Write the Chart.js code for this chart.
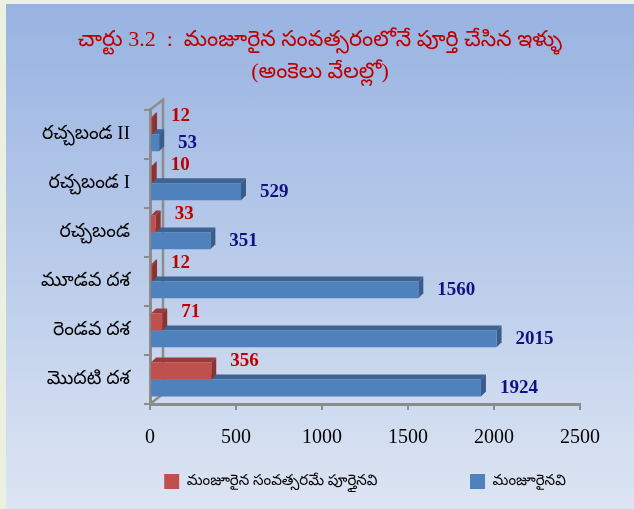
<!DOCTYPE html>
<html>
<head>
<meta charset="utf-8">
<script src="https://cdn.jsdelivr.net/npm/chart.js@4.4.1/dist/chart.umd.min.js"></script>
<style>
html, body { margin: 0; padding: 0; background: #ebf1de; }
#wrap {
    position: absolute; left: 6px; top: 4px; width: 628px; height: 505px;
    background: linear-gradient(to bottom, #98b3e1 0%, #b9cbea 50%, #dde5f3 100%);
}
</style>
</head>
<body>
<div id="wrap"><canvas id="myChart" width="628" height="505"></canvas></div>
<script>
const titleLines = ['చార్టు 3.2  :  మంజూరైన సంవత్సరంలోనే పూర్తి చేసిన ఇళ్ళు', '(అంకెలు వేలల్లో)'];
const categories = ['రచ్చబండ II', 'రచ్చబండ I', 'రచ్చబండ', 'మూడవ దశ', 'రెండవ దశ', 'మొదటి దశ'];
const seriesNames = ['మంజూరైన సంవత్సరమే పూర్తైనవి', 'మంజూరైనవి'];
const completedSameYear = [12, 10, 33, 12, 71, 356];
const sanctioned = [53, 529, 351, 1560, 2015, 1924];
const xTicks = [0, 500, 1000, 1500, 2000, 2500];

// face, top and side colours for the fake 3d look
const faceColors = ['#c0504d', '#4f81bd'];
const topColors = ['#983c39', '#3c6391'];
const sideColors = ['#8a3431', '#385d8a'];
const labelColors = ['#c00000', '#101080'];

const teluguFont = "'Liberation Serif', 'Noto Sans Telugu', 'Noto Serif Telugu', 'Gautami', serif";
const axisGray = '#8c8c8c';
const depth = 5;

const bar3d = {
    id: 'bar3d',
    beforeDatasetsDraw(chart) {
        const ctx = chart.ctx;
        const a = chart.chartArea;
        ctx.save();
        // back wall
        ctx.strokeStyle = axisGray;
        ctx.lineWidth = 2.5;
        ctx.beginPath();
        ctx.moveTo(a.left, a.top);
        ctx.lineTo(a.left + 13, a.top - 10);
        ctx.lineTo(a.left + 13, a.bottom - 10);
        ctx.lineTo(a.left, a.bottom);
        ctx.stroke();
        // extrusions, blue first so red sits over it
        [1, 0].forEach(di => {
            chart.getDatasetMeta(di).data.forEach(b => {
                const top = b.y - b.height / 2, bot = b.y + b.height / 2;
                const x0 = b.base, x1 = b.x;
                ctx.fillStyle = topColors[di];
                ctx.beginPath();
                ctx.moveTo(x0, top);
                ctx.lineTo(x0 + depth, top - depth);
                ctx.lineTo(x1 + depth, top - depth);
                ctx.lineTo(x1, top);
                ctx.fill();
                ctx.fillStyle = sideColors[di];
                ctx.beginPath();
                ctx.moveTo(x1, top);
                ctx.lineTo(x1 + depth, top - depth);
                ctx.lineTo(x1 + depth, bot - depth);
                ctx.lineTo(x1, bot);
                ctx.fill();
            });
        });
        ctx.restore();
    },
    afterDatasetsDraw(chart) {
        const ctx = chart.ctx;
        ctx.save();
        ctx.font = "bold 19px 'Liberation Serif', serif";
        ctx.textAlign = 'left';
        ctx.textBaseline = 'middle';
        chart.data.datasets.forEach((ds, di) => {
            ctx.fillStyle = labelColors[di];
            chart.getDatasetMeta(di).data.forEach((b, i) => {
                ctx.fillText(ds.data[i], b.x + 19, b.y + (di === 0 ? -10 : 0));
            });
        });
        ctx.restore();
    }
};

const ctx = document.getElementById('myChart').getContext('2d');
const chart = new Chart(ctx, {
    type: 'bar',
    data: {
        labels: categories,
        datasets: [
            { label: seriesNames[0], data: completedSameYear, backgroundColor: faceColors[0], categoryPercentage: 0.69, barPercentage: 1 },
            { label: seriesNames[1], data: sanctioned, backgroundColor: faceColors[1], categoryPercentage: 0.69, barPercentage: 1 }
        ]
    },
    options: {
        indexAxis: 'y',
        responsive: false,
        animation: false,
        devicePixelRatio: 1,
        layout: { padding: { left: 0, right: 0, top: 0, bottom: 10 } },
        plugins: {
            title: {
                display: true,
                text: titleLines,
                color: '#c00000',
                font: { family: teluguFont, size: 22, weight: 'normal', lineHeight: 1.45 },
                padding: { top: 20, bottom: 22 }
            },
            legend: {
                position: 'bottom',
                fullSize: false,
                labels: {
                    boxWidth: 15,
                    boxHeight: 15,
                    padding: 10,
                    color: '#000',
                    font: { family: teluguFont, size: 15 },
                    generateLabels(c) {
                        const items = Chart.defaults.plugins.legend.labels.generateLabels(c);
                        items[0].text += '\u2003\u2003\u2003\u2003\u2003\u2002';
                        return items;
                    }
                }
            },
            tooltip: { enabled: false }
        },
        scales: {
            x: {
                min: 0,
                max: 2500,
                afterBuildTicks(s) { s.ticks = xTicks.map(v => ({ value: v })); },
                ticks: { color: '#000', padding: 16, font: { family: "'Liberation Serif', serif", size: 20 }, callback: v => String(v) },
                grid: { drawOnChartArea: false, tickLength: 6, color: axisGray, lineWidth: 2 },
                border: { color: axisGray, width: 3 },
                afterFit(s) { s.height = 60; }
            },
            y: {
                ticks: { color: '#000', padding: 14, font: { family: teluguFont, size: 19 } },
                grid: { drawOnChartArea: false, tickLength: 6, color: axisGray, lineWidth: 2 },
                border: { color: axisGray, width: 3 },
                afterFit(s) { s.width = 144; }
            },
            // empty right-hand strip so the plot ends where the original does
            yRight: {
                type: 'category',
                labels: categories,
                position: 'right',
                grid: { display: false },
                border: { display: false },
                ticks: { display: false },
                afterFit(s) { s.width = 54; }
            }
        }
    },
    plugins: [bar3d]
});
</script>
</body>
</html>
